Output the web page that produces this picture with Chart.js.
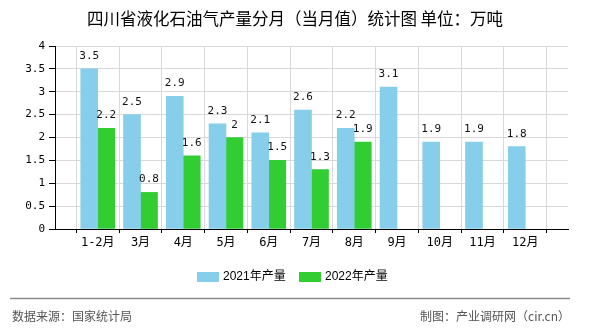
<!DOCTYPE html>
<html>
<head>
<meta charset="utf-8">
<script src="https://cdn.jsdelivr.net/npm/chart.js@4/dist/chart.umd.min.js"></script>
<style>
  html, body { margin: 0; padding: 0; background: #fff; }
  #wrap { width: 590px; height: 330px; position: relative; }
</style>
</head>
<body>
<div id="wrap"><canvas id="result"></canvas></div>
<script>
const title = '四川省液化石油气产量分月（当月值）统计图 单位：万吨'
const months = ['1-2月', '3月', '4月', '5月', '6月', '7月', '8月', '9月', '10月', '11月', '12月']
const output2021 = [3.5, 2.5, 2.9, 2.3, 2.1, 2.6, 2.2, 3.1, 1.9, 1.9, 1.8]
const output2022 = [2.2, 0.8, 1.6, 2, 1.5, 1.3, 1.9, null, null, null, null]
const yTicks = [0, 0.5, 1, 1.5, 2, 2.5, 3, 3.5, 4]
const sourceText = '数据来源：国家统计局'
const creditText = '制图：产业调研网（cir.cn）'

// empty slot on each side so the month ticks sit between the edges
const labels = ['', ...months, '']
const pad = (arr) => [null, ...arr, null]

const monoFont = '"DejaVu Sans Mono", "Noto Sans CJK SC", monospace'
const sansFont = '"Liberation Sans", "Noto Sans CJK SC", sans-serif'

const extras = {
  id: 'extras',
  afterDatasetsDraw(chart) {
    const ctx = chart.ctx
    ctx.save()
    ctx.font = '11px ' + monoFont
    ctx.fillStyle = '#111'
    ctx.textAlign = 'center'
    ctx.textBaseline = 'alphabetic'
    chart.data.datasets.forEach((ds, i) => {
      chart.getDatasetMeta(i).data.forEach((bar, j) => {
        const v = ds.data[j]
        if (v === null || v === undefined) return
        ctx.fillText(String(v), bar.x, bar.y - 10)
      })
    })
    ctx.restore()
  },
  afterDraw(chart) {
    const ctx = chart.ctx
    ctx.save()
    // title
    ctx.font = '16.5px "Noto Sans CJK SC", sans-serif'
    ctx.fillStyle = '#000'
    ctx.textAlign = 'center'
    ctx.textBaseline = 'middle'
    ctx.fillText(title, 295, 19)

    // legend
    ctx.font = '12px ' + sansFont
    ctx.textAlign = 'left'
    const legendX = [197, 299]
    chart.data.datasets.forEach((ds, i) => {
      ctx.fillStyle = ds.backgroundColor
      ctx.fillRect(legendX[i], 272, 22, 10)
      ctx.fillStyle = '#000'
      ctx.fillText(ds.label, legendX[i] + 26, 277)
    })

    // footer
    ctx.strokeStyle = '#8c8c8c'
    ctx.lineWidth = 1.5
    ctx.beginPath()
    ctx.moveTo(10, 298.5)
    ctx.lineTo(570, 298.5)
    ctx.stroke()
    ctx.font = '12px "Noto Sans CJK SC", sans-serif'
    ctx.fillStyle = '#555'
    ctx.fillText(sourceText, 12, 316)
    ctx.textAlign = 'right'
    ctx.fillText(creditText, 570, 316)
    ctx.restore()
  }
}

const ctx = document.getElementById('result').getContext('2d')
new Chart(ctx, {
  type: 'bar',
  data: {
    labels,
    datasets: [
      { label: '2021年产量', data: pad(output2021), backgroundColor: '#87ceeb' },
      { label: '2022年产量', data: pad(output2022), backgroundColor: '#32cd32' }
    ]
  },
  options: {
    responsive: true,
    maintainAspectRatio: false,
    animation: false,
    events: [],
    barThickness: 17,
    layout: { padding: { left: 0, right: 22, top: 46, bottom: 71 } },
    plugins: {
      legend: { display: false },
      title: { display: false },
      tooltip: { enabled: false }
    },
    scales: {
      x: {
        offset: false,
        afterFit: (s) => { s.height = 30 },
        grid: { color: '#d9d9d9', tickColor: '#000', tickLength: 4 },
        border: { color: '#000' },
        ticks: {
          autoSkip: false,
          maxRotation: 0,
          padding: 3,
          color: '#000',
          font: { size: 12, family: monoFont }
        }
      },
      y: {
        min: yTicks[0],
        max: yTicks[yTicks.length - 1],
        afterFit: (s) => { s.width = 55 },
        afterBuildTicks: (s) => { s.ticks = yTicks.map((v) => ({ value: v })) },
        grid: { color: '#d9d9d9', tickColor: '#000', tickLength: 6 },
        border: { color: '#000' },
        ticks: {
          padding: 4,
          color: '#000',
          font: { size: 11, family: monoFont },
          callback: (v) => String(v)
        }
      }
    }
  },
  plugins: [extras]
})
</script>
</body>
</html>
